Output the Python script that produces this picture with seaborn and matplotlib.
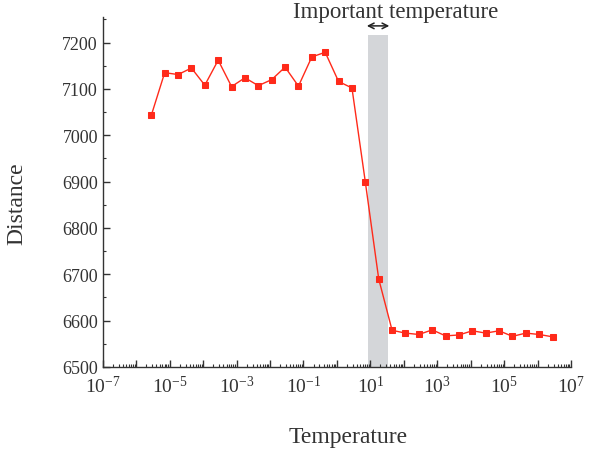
import seaborn as sns
import matplotlib.pyplot as plt
import matplotlib.ticker as mticker
import numpy as np
import pandas as pd

# data
log_temperature = [-5.55, -5.15, -4.75, -4.35, -3.95, -3.55, -3.15, -2.75, -2.35, -1.95,
                   -1.55, -1.15, -0.75, -0.35, 0.05, 0.45, 0.85, 1.25, 1.65, 2.05,
                   2.45, 2.85, 3.25, 3.65, 4.05, 4.45, 4.85, 5.25, 5.65, 6.05, 6.45]
distance = [7043, 7135, 7131, 7145, 7108, 7162, 7105, 7124, 7107, 7120,
            7147, 7106, 7169, 7179, 7116, 7102, 6899, 6690, 6579, 6573,
            6570, 6580, 6567, 6569, 6578, 6573, 6578, 6566, 6573, 6570, 6565]
band_x = [10 ** 0.92, 10 ** 1.52]
band_top = 7217
arrow_y = 7236
label_text = 'Important temperature'

df = pd.DataFrame({'Temperature': [10 ** v for v in log_temperature], 'Distance': distance})

sns.set_style('ticks')
plt.rcParams['font.family'] = ['Liberation Serif', 'DejaVu Serif']
plt.rcParams['mathtext.fontset'] = 'custom'
plt.rcParams['mathtext.rm'] = 'Liberation Serif'
plt.rcParams['mathtext.it'] = 'Liberation Serif'

txt = '#333333'
fig = plt.figure(figsize=(6.12, 4.52), dpi=100)
ax = fig.add_axes([0.168, 0.186, 0.765, 0.774])

# grey band marking the important temperature
ax.fill_between(band_x, 6500, band_top, color='#d4d6d9', lw=0, zorder=0)

sns.lineplot(data=df, x='Temperature', y='Distance', ax=ax, color='#ff2a1a',
             marker='s', markersize=4.5, markeredgecolor='#ff2a1a', lw=1.0)

ax.set_xscale('log')
ax.set_xlim(1e-7, 1e7)
ax.set_ylim(6500, 7255)

ax.annotate('', xy=(band_x[0] * 0.78, arrow_y), xytext=(band_x[1] * 1.35, arrow_y),
            arrowprops=dict(arrowstyle='<->', color='#222222', lw=1.1, mutation_scale=10),
            annotation_clip=False)
ax.text(10 ** 1.75, 7268, label_text, ha='center', va='center', fontsize=16.5, color=txt)

# ticks
ax.set_yticks(np.arange(6500, 7201, 100))
ax.yaxis.set_minor_locator(mticker.MultipleLocator(50))
ax.xaxis.set_major_locator(mticker.LogLocator(base=10, numticks=20))
ax.xaxis.set_minor_locator(mticker.LogLocator(base=10, subs=np.arange(2, 10), numticks=20))


def fmt(v, pos):
    e = int(round(np.log10(v)))
    if e % 2 == 0:
        return ''
    return r'$\mathregular{10^{%d}}$' % e


ax.xaxis.set_major_formatter(mticker.FuncFormatter(fmt))
ax.xaxis.set_minor_formatter(mticker.NullFormatter())
ax.tick_params(which='major', direction='in', length=5, width=1, labelsize=13,
               colors='#333333', labelcolor=txt)
ax.tick_params(which='minor', direction='in', length=2.5, width=0.8, colors='#333333')
ax.tick_params(axis='x', which='major', pad=6, labelsize=14)

for s in ['top', 'right']:
    ax.spines[s].set_visible(False)
for s in ['left', 'bottom']:
    ax.spines[s].set_color('#333333')
    ax.spines[s].set_linewidth(1)

ax.set_xlabel('Temperature', fontsize=17, color=txt)
ax.set_ylabel('Distance', fontsize=17, color=txt)
ax.xaxis.set_label_coords(0.525, -0.17)
ax.yaxis.set_label_coords(-0.162, 0.47)

fig.savefig('out.png', dpi=100)
